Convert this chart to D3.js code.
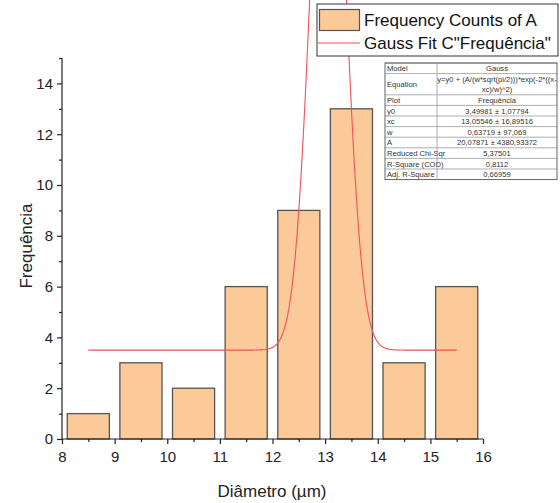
<!DOCTYPE html>
<html>
<head>
<meta charset="utf-8">
<script src="https://cdn.jsdelivr.net/npm/d3@7"></script>
<style>
  body { margin: 0; background: #fff; }
  svg { font-family: "Liberation Sans", Arial, sans-serif; }
</style>
</head>
<body>
<div id="chart"></div>
<script>
// histogram bins (width 1) and counts
var binStarts = [8, 9, 10, 11, 12, 13, 14, 15];
var counts = [1, 3, 2, 6, 9, 13, 3, 6];
var xTicks = [8, 9, 10, 11, 12, 13, 14, 15, 16];
var yTicks = [0, 2, 4, 6, 8, 10, 12, 14];

// Gauss fit parameters (from the fit table)
var y0 = 3.49981, xc = 13.05546, w = 0.63719, A = 20.07871;
var fitRange = [8.5, 15.5];

var tableRows = [
  ["Model", "Gauss"],
  ["Equation", "y=y0 + (A/(w*sqrt(pi/2)))*exp(-2*((x-", "xc)/w)^2)"],
  ["Plot", "Frequência"],
  ["y0", "3,49981 ± 1,07794"],
  ["xc", "13,05546 ± 16,89516"],
  ["w", "0,63719 ± 97,069"],
  ["A", "20,07871 ± 4380,93372"],
  ["Reduced Chi-Sqr", "5,37501"],
  ["R-Square (COD)", "0,8112"],
  ["Adj. R-Square", "0,66959"]
];

var W = 560, H = 503;
var svg = d3.select("#chart").append("svg")
    .attr("width", W).attr("height", H);

var x = d3.scaleLinear().domain([8, 16]).range([62, 483]);
var y = d3.scaleLinear().domain([0, 15]).range([439, 58]);

// bars
svg.selectAll("rect.bar")
    .data(binStarts)
    .enter()
    .append("rect")
    .attr("class", "bar")
    .attr("x", function(d) { return x(d + 0.1); })
    .attr("y", function(d, i) { return y(counts[i]); })
    .attr("width", function(d) { return x(d + 0.9) - x(d + 0.1); })
    .attr("height", function(d, i) { return y(0) - y(counts[i]); })
    .attr("fill", "#fcc998")
    .attr("stroke", "#555")
    .attr("stroke-width", 1.3);

// gauss fit line
var gauss = function(t) {
  return y0 + (A / (w * Math.sqrt(Math.PI / 2))) * Math.exp(-2 * Math.pow((t - xc) / w, 2));
};
var pts = [];
for (var t = fitRange[0]; t <= fitRange[1] + 1e-9; t += 0.005) pts.push([t, gauss(t)]);
svg.append("path")
    .datum(pts)
    .attr("fill", "none")
    .attr("stroke", "#f0505a")
    .attr("stroke-width", 1.1)
    .attr("d", d3.line().x(function(d) { return x(d[0]); }).y(function(d) { return y(d[1]); }));

// axes
var xAxis = svg.append("g").attr("transform", "translate(0," + y(0) + ")")
    .call(d3.axisBottom(x).tickValues(xTicks).tickFormat(d3.format("d")).tickSize(5).tickPadding(7));
svg.append("g").attr("transform", "translate(0," + y(0) + ")")
    .call(d3.axisBottom(x).tickValues(d3.range(8.5, 16, 1)).tickFormat("").tickSize(3))
    .select(".domain").remove();
var yAxis = svg.append("g").attr("transform", "translate(" + x(8) + ",0)")
    .call(d3.axisLeft(y).tickValues(yTicks).tickSize(5).tickPadding(4));
svg.append("g").attr("transform", "translate(" + x(8) + ",0)")
    .call(d3.axisLeft(y).tickValues(d3.range(1, 16, 2)).tickFormat("").tickSize(3))
    .select(".domain").remove();

svg.selectAll(".domain").attr("stroke", "#222").attr("stroke-width", 1.2);
svg.selectAll(".tick line").attr("stroke", "#222").attr("stroke-width", 1.2);
svg.selectAll(".tick text").attr("font-size", 15).attr("fill", "#222")
    .attr("font-family", "Liberation Sans, Arial, sans-serif");
// plain axis lines without outer ticks
xAxis.select(".domain").attr("d", "M" + x(8) + ",0H" + x(16));
yAxis.select(".domain").attr("d", "M0," + y(15) + "V" + y(0));

// axis titles
svg.append("text")
    .attr("x", 272).attr("y", 497)
    .attr("text-anchor", "middle")
    .attr("font-size", 17).attr("fill", "#222")
    .text("Diâmetro (µm)");
svg.append("text")
    .attr("transform", "translate(32,246) rotate(-90)")
    .attr("text-anchor", "middle")
    .attr("font-size", 17).attr("fill", "#222")
    .text("Frequência");

// legend
var lg = svg.append("g");
lg.append("rect").attr("x", 317).attr("y", 4).attr("width", 241).attr("height", 52)
    .attr("fill", "#fff").attr("stroke", "#333").attr("stroke-width", 1);
lg.append("rect").attr("x", 319.5).attr("y", 9.5).attr("width", 40).attr("height", 21)
    .attr("fill", "#fcc998").attr("stroke", "#555").attr("stroke-width", 1.2);
lg.append("text").attr("x", 364).attr("y", 26).attr("font-size", 17).attr("fill", "#111")
    .text("Frequency Counts of A");
lg.append("line").attr("x1", 318).attr("x2", 360).attr("y1", 43).attr("y2", 43)
    .attr("stroke", "#f0505a").attr("stroke-width", 1.1);
lg.append("text").attr("x", 364).attr("y", 49).attr("font-size", 17).attr("fill", "#111")
    .text("Gauss Fit C\"Frequência\"");

// fit table
var tx = 385, tdiv = 437, tr = 557, ty = 63, rh = 10.6;
var tb = svg.append("g").attr("font-size", 7.6).attr("fill", "#333");
var rowY = ty;
tableRows.forEach(function(r) {
  var n = r.length > 2 ? 2 : 1;
  var hgt = rh * n;
  tb.append("line").attr("x1", tx).attr("x2", tr).attr("y1", rowY).attr("y2", rowY)
      .attr("stroke", "#999").attr("stroke-width", 0.8);
  tb.append("text").attr("x", tx + 2).attr("y", rowY + hgt / 2 + 2.8).text(r[0]);
  for (var k = 1; k < r.length; k++) {
    tb.append("text").attr("x", (tdiv + tr) / 2)
        .attr("y", rowY + rh * (k - 1) + rh / 2 + 2.8)
        .attr("text-anchor", "middle").text(r[k]);
  }
  rowY += hgt;
});
tb.append("rect").attr("x", tx).attr("y", ty).attr("width", tr - tx).attr("height", rowY - ty)
    .attr("fill", "none").attr("stroke", "#555").attr("stroke-width", 0.9);
tb.append("line").attr("x1", tdiv).attr("x2", tdiv).attr("y1", ty).attr("y2", rowY)
    .attr("stroke", "#999").attr("stroke-width", 0.8);
</script>
</body>
</html>
